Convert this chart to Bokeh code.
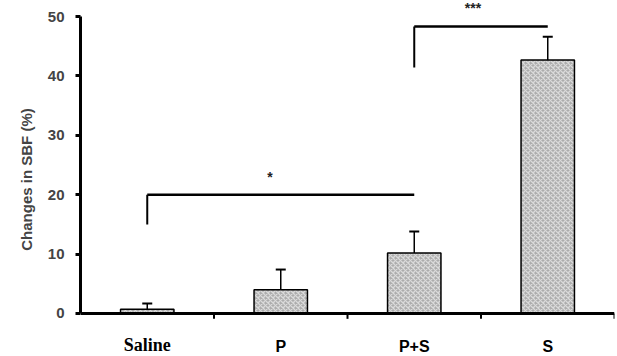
from bokeh.plotting import figure
from bokeh.models import (ColumnDataSource, Range1d, LinearAxis, FixedTicker, Whisker, TeeHead)
from bokeh.core.properties import value
from bokeh.embed import file_html
from bokeh.resources import INLINE

categories = ["Saline", "P", "P+S", "S"]
means = [0.7, 4.0, 10.2, 42.7]
errors = [1.0, 3.4, 3.6, 3.9]
y_ticks = [0, 10, 20, 30, 40, 50]

# significance brackets
sig_left = ["Saline", "P+S"]
sig_right = ["P+S", "S"]
sig_leg_bottom = [15.0, 41.4]
sig_height = [20.0, 48.3]
sig_labels = ["*", "***"]
sig_label_shift = [-0.08, -0.06]   # horizontal nudge from bracket middle (category units)
sig_label_y = [23.0, 51.4]

SANS = "Liberation Sans"
SERIF = "Liberation Serif"

pos = {c: i + 0.5 for i, c in enumerate(categories)}
xs = [pos[c] for c in categories]

p = figure(width=617, height=356, x_range=Range1d(0, len(categories)),
           y_range=Range1d(-7.24, 52.36), output_backend="svg", toolbar_location=None,
           x_axis_location=None, y_axis_location=None,
           min_border_left=80, min_border_right=3, min_border_top=2, min_border_bottom=0)
p.outline_line_color = None
p.grid.visible = False
p.background_fill_color = "white"
p.border_fill_color = "white"

src = ColumnDataSource(dict(x=xs, top=means,
                            upper=[m + e for m, e in zip(means, errors)]))

wh = Whisker(source=src, base="x", lower="top", upper="upper", dimension="height",
             line_color="black", line_width=1.5,
             upper_head=TeeHead(size=10, line_width=2, line_color="black"),
             lower_head=None, level="underlay")
p.add_layout(wh)

p.vbar(x="x", top="top", bottom=0, width=0.4, source=src,
       fill_color="#acacac", hatch_pattern="diagonal_cross", hatch_color="#dadada",
       hatch_scale=5, hatch_weight=1.3, line_color="black", line_width=1.5)

# x axis: baseline, group-boundary ticks and group labels at y = 0
bounds_x = list(range(0, len(categories) + 1))
p.segment(x0=[bounds_x[0]], x1=[bounds_x[-1]], y0=[0], y1=[0], line_color="black",
          line_width=3)
p.segment(x0=bounds_x[1:], x1=bounds_x[1:], y0=[0] * len(categories),
          y1=[-0.9] * len(categories), line_color="black", line_width=2)
p.text(x=xs[1:], y=[-5.6] * (len(categories) - 1), text=categories[1:],
       text_font=value(SANS), text_font_style="bold", text_font_size="16px",
       text_color="black", text_align="center", text_baseline="alphabetic")
p.text(x=xs[:1], y=[-5.3], text=categories[:1],
       text_font=value(SERIF), text_font_style="bold", text_font_size="18px",
       text_color="black", text_align="center", text_baseline="alphabetic")

# brackets
xl = [pos[c] for c in sig_left]
xr = [pos[c] for c in sig_right]
p.segment(x0=xl, x1=xl, y0=sig_leg_bottom, y1=sig_height,
          line_color="black", line_width=2)
p.segment(x0=xl, x1=xr, y0=sig_height, y1=sig_height,
          line_color="black", line_width=2.5)
p.text(x=[(a + b) / 2 + s for a, b, s in zip(xl, xr, sig_label_shift)], y=sig_label_y,
       text=sig_labels, text_font=value(SANS), text_font_style="bold",
       text_font_size="14px", text_color="#222222", text_align="center",
       text_baseline="middle")

# y axis
yax = LinearAxis(ticker=FixedTicker(ticks=y_ticks), bounds=(0, 50))
yax.axis_label = "Changes in SBF (%)"
yax.axis_label_text_font = SANS
yax.axis_label_text_font_style = "bold"
yax.axis_label_text_font_size = "15px"
yax.axis_label_standoff = 10
yax.axis_line_width = 3
yax.major_tick_line_width = 3
yax.major_tick_out = 5
yax.major_tick_in = 0
yax.minor_tick_line_color = None
yax.major_label_standoff = 11
yax.major_label_text_font = SANS
yax.major_label_text_font_style = "bold"
yax.major_label_text_font_size = "15px"
p.add_layout(yax, "left")

open("out.html", "w").write(file_html(p, INLINE))
